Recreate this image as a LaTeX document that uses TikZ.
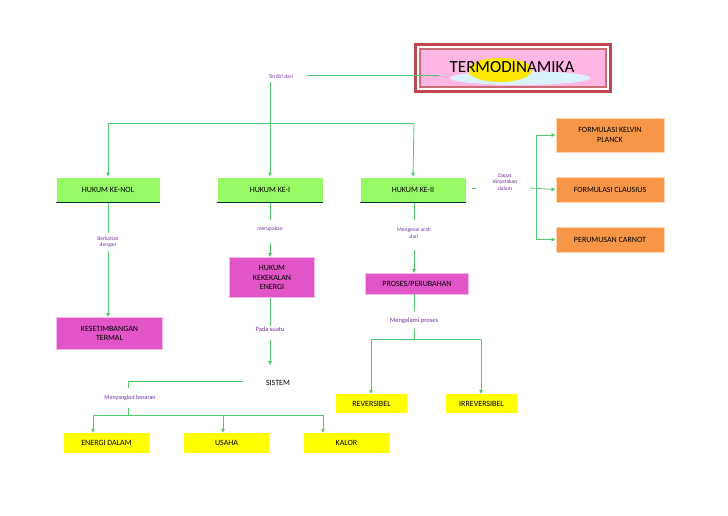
\documentclass[tikz,border=0pt]{standalone}
\usepackage{fontspec}
\setmainfont{Carlito}
\usetikzlibrary{arrows.meta,shapes.geometric}
\definecolor{ln}{RGB}{80,200,110}
\definecolor{gbox}{RGB}{150,250,100}
\definecolor{pbox}{RGB}{225,85,200}
\definecolor{obox}{RGB}{247,150,70}
\definecolor{ybox}{RGB}{255,255,0}
\definecolor{lab}{RGB}{112,48,160}
\definecolor{dred}{RGB}{190,70,80}
\begin{document}
\begin{tikzpicture}[x=1pt,y=-1pt,
  con/.style={draw=ln,line width=0.8pt},
  arr/.style={con,-{Triangle[length=4pt,width=3.5pt]}},
  lbl/.style={text=lab,font=\fontsize{5.5}{6.5}\selectfont,align=center,inner sep=1pt},
  bx/.style={font=\fontsize{8}{9.5}\selectfont,align=center,inner sep=0pt},
  gb/.style={bx,fill=gbox,draw=white,line width=0.8pt},
  pb/.style={bx,fill=pbox,draw=pbox!40!white,line width=1pt},
  ob/.style={bx,fill=obox,draw=obox!40!white,line width=1pt},
  yb/.style={bx,fill=ybox}]
\useasboundingbox (0,0) rectangle (728,515);
% title
\fill[dred] (414,43) rectangle (612,93);
\fill[white] (417,46) rectangle (609,90);
\fill[dred!80] (419,48) rectangle (607,88);
\fill[pink!70!magenta!60] (421,50) rectangle (605,86);
\fill[cyan!15] (520,78) ellipse (70 and 7);
\fill[yellow!90!orange] (500,70) ellipse (32 and 12);
\node[font=\fontsize{17}{18}\selectfont] (title) at (512,67) {TERMODINAMIKA};
% main nodes
\node[gb,minimum width=104pt,minimum height=26pt] (k0) at (108,190) {HUKUM KE-NOL};
\node[gb,minimum width=106pt,minimum height=26pt] (k1) at (270,190) {HUKUM KE-I};
\node[gb,minimum width=106pt,minimum height=26pt] (k2) at (413,190) {HUKUM KE-II};
\foreach \n in {k0,k1,k2}{\draw[teal!40!black,line width=1.5pt] ([yshift=1pt]\n.south west)--([yshift=1pt]\n.south east);}
\node[ob,minimum width=108pt,minimum height=34pt] (kel) at (610,135) {FORMULASI KELVIN\\PLANCK};
\node[ob,minimum width=108pt,minimum height=25pt] (cla) at (610,189.5) {FORMULASI CLAUSIUS};
\node[ob,minimum width=108pt,minimum height=25pt] (car) at (610,239.5) {PERUMUSAN CARNOT};
\node[pb,minimum width=106pt,minimum height=32pt] (kes) at (109.5,333.5) {KESETIMBANGAN\\TERMAL};
\node[pb,minimum width=85pt,minimum height=40pt] (kek) at (272,277.5) {HUKUM\\KEKEKALAN\\ENERGI};
\node[pb,minimum width=103pt,minimum height=21pt] (pro) at (417,283.5) {PROSES/PERUBAHAN};
\node[bx] (sis) at (278,383) {SISTEM};
\node[yb,minimum width=85pt,minimum height=20pt] (ed) at (106.5,443) {ENERGI DALAM};
\node[yb,minimum width=85pt,minimum height=20pt] (us) at (226.5,443) {USAHA};
\node[yb,minimum width=85pt,minimum height=20pt] (ka) at (346.5,443) {KALOR};
\node[yb,minimum width=71pt,minimum height=19pt] (rev) at (371.5,403.5) {REVERSIBEL};
\node[yb,minimum width=71pt,minimum height=19pt] (irr) at (481.5,403.5) {IRREVERSIBEL};
% labels
\node[lbl] (tl) at (281,77) {Terdiri dari};
\node[lbl] (dl) at (505,182) {Dapat\\dinyatakan\\dalam};
\node[lbl] (bl) at (108,242) {Berkaitan\\dengan};
\node[lbl] (ml) at (270,229) {merupakan};
\node[lbl] (gl) at (414,233) {Mengenai arah\\dari};
\node[lbl,font=\fontsize{6.5}{7.5}\selectfont] (pl) at (270,329) {Pada suatu};
\node[lbl,font=\fontsize{6.5}{7.5}\selectfont] (al) at (414,321) {Mengalami proses};
\node[lbl,font=\fontsize{6}{7}\selectfont] (sl) at (130,398) {Menyangkut besaran};
\coordinate (tj) at (270,123);
% connectors
\draw[con] (title.west|-0,75) ++(-7,0) -- (307,75);
\draw[arr] (270,82) -- (k1.north);
\draw[con] (108,123) -- (414,123);
\draw[arr] (108,123) -- (k0.north);
\draw[arr] (414,123) -- (k2.north);
\draw[con] (472,188) -- (476,188);
\draw[arr] (530,188) -- (cla.west);
\draw[con] (536,135) -- (536,239.5);
\draw[arr] (536,135) -- (kel.west);
\draw[arr] (536,239.5) -- (car.west);
\draw[con] (k0.south) -- (108,233);
\draw[arr] (108,251) -- (kes.north-|108,0) ;
\draw[con] (k1.south) -- (270,220);
\draw[arr] (270,243) -- (270,257);
\draw[con] (k2.south-|414,0) -- (414,220);
\draw[arr] (414,250) -- (414,273);
\draw[con] (270,297.5) -- (pl.north);
\draw[arr] (270,340) -- (270,365);
\draw[con] (243,381) -- (128,381) -- (128,388);
\draw[con] (128,408) -- (128,415);
\draw[con] (93,415) -- (323,415);
\draw[arr] (93,415) -- (ed.north-|93,0);
\draw[arr] (223,415) -- (us.north-|223,0);
\draw[arr] (323,415) -- (ka.north-|323,0);
\draw[con] (414,294) -- (414,311);
\draw[con] (414,329) -- (414,339);
\draw[con] (371,339) -- (481,339);
\draw[arr] (371,339) -- (rev.north-|371,0);
\draw[arr] (481,339) -- (irr.north-|481,0);
\end{tikzpicture}
\end{document}
